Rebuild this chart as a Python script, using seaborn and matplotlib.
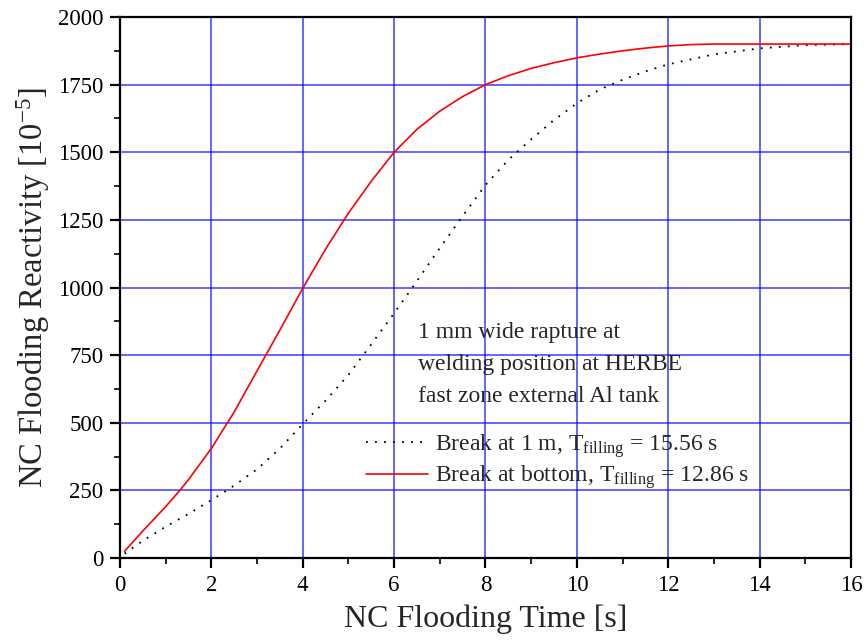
import matplotlib
matplotlib.use("Agg")
import matplotlib.pyplot as plt
import seaborn as sns
import pandas as pd
from matplotlib.ticker import MultipleLocator

# ---- data ----
t_1m = [0.1, 0.5, 1, 1.5, 2, 2.5, 3, 3.5, 4, 4.5, 5, 5.5, 6, 6.4, 7, 7.5, 8,
        8.5, 9, 9.5, 10, 10.5, 11, 11.5, 12, 13, 14, 15, 16]
r_1m = [16, 64, 116, 163, 214, 268, 328, 405, 495, 582, 677, 790, 905, 1000,
        1146, 1264, 1379, 1472, 1548, 1619, 1681, 1732, 1768, 1799, 1825,
        1862, 1884, 1896, 1900]

t_bot = [0.1, 0.5, 1, 1.31, 1.5, 2, 2.5, 3, 3.5, 4, 4.5, 5, 5.5, 6, 6.5, 7,
         7.5, 8, 8.5, 9, 9.5, 10, 10.5, 11, 11.5, 12, 12.5, 13, 14, 15, 16]
r_bot = [25, 100, 190, 250, 290, 405, 540, 692, 843, 997, 1142, 1275, 1393,
         1500, 1585, 1652, 1706, 1750, 1783, 1810, 1831, 1849, 1863, 1875,
         1885, 1893, 1898, 1900, 1900, 1900, 1900]

label_1m = r'Break at 1 m, T$_{\rm filling}$ = 15.56 s'
label_bot = r'Break at bottom, T$_{\rm filling}$ = 12.86 s'
note = "1 mm wide rapture at\nwelding position at HERBE\nfast zone external Al tank"
x_label = "NC Flooding Time [s]"
y_label = r"NC Flooding Reactivity [10$^{-5}$]"

df = pd.concat([
    pd.DataFrame({"t": t_1m, "r": r_1m, "case": label_1m}),
    pd.DataFrame({"t": t_bot, "r": r_bot, "case": label_bot}),
], ignore_index=True)

sns.set_style("ticks")
plt.rcParams["font.family"] = ["Liberation Serif", "DejaVu Serif"]
plt.rcParams["mathtext.fontset"] = "custom"
plt.rcParams["mathtext.rm"] = "Liberation Serif"
plt.rcParams["mathtext.it"] = "Liberation Serif:italic"

fig = plt.figure(figsize=(8.65, 6.41), dpi=100)
ax = fig.add_axes([120/865, 1-558/641, (851-120)/865, (558-17)/641])

sns.lineplot(data=df, x="t", y="r", hue="case", style="case",
             palette={label_1m: "black", label_bot: "red"},
             dashes={label_1m: (1, 4), label_bot: ""},
             ax=ax, sort=False, estimator=None, legend=True)
for ln in ax.get_lines():
    ln.set_linewidth(1.2 if ln.get_color() == "red" else 1.3)

ax.set_xlim(0, 16)
ax.set_ylim(0, 2000)
ax.xaxis.set_major_locator(MultipleLocator(2))
ax.xaxis.set_minor_locator(MultipleLocator(1))
ax.yaxis.set_major_locator(MultipleLocator(250))
ax.yaxis.set_minor_locator(MultipleLocator(125))
ax.grid(True, which="major", color="#0000ff", alpha=0.7, linewidth=1.2)
ax.set_axisbelow(True)

for s in ax.spines.values():
    s.set_visible(True)
    s.set_linewidth(1.6)
    s.set_color("black")
ax.tick_params(which="major", direction="out", length=7, width=1.6,
               labelsize=16.5, colors="black", pad=5)
ax.tick_params(which="minor", direction="out", length=4, width=1.4)

ax.set_xlabel(x_label, fontsize=23, labelpad=6)
ax.set_ylabel(y_label, fontsize=23.5, labelpad=4)

ax.text(0.407, 0.436, note, transform=ax.transAxes, fontsize=17,
        va="top", ha="left", linespacing=1.68)

leg = ax.legend(loc="upper left", bbox_to_anchor=(0.337, 0.233), frameon=False,
                fontsize=17, handlelength=2.6, handletextpad=0.3,
                labelspacing=0.15, borderaxespad=0, borderpad=0)
for h in leg.get_lines():
    h.set_linewidth(1.2 if h.get_color() == "red" else 1.3)

fig.savefig("out.png", dpi=100)
